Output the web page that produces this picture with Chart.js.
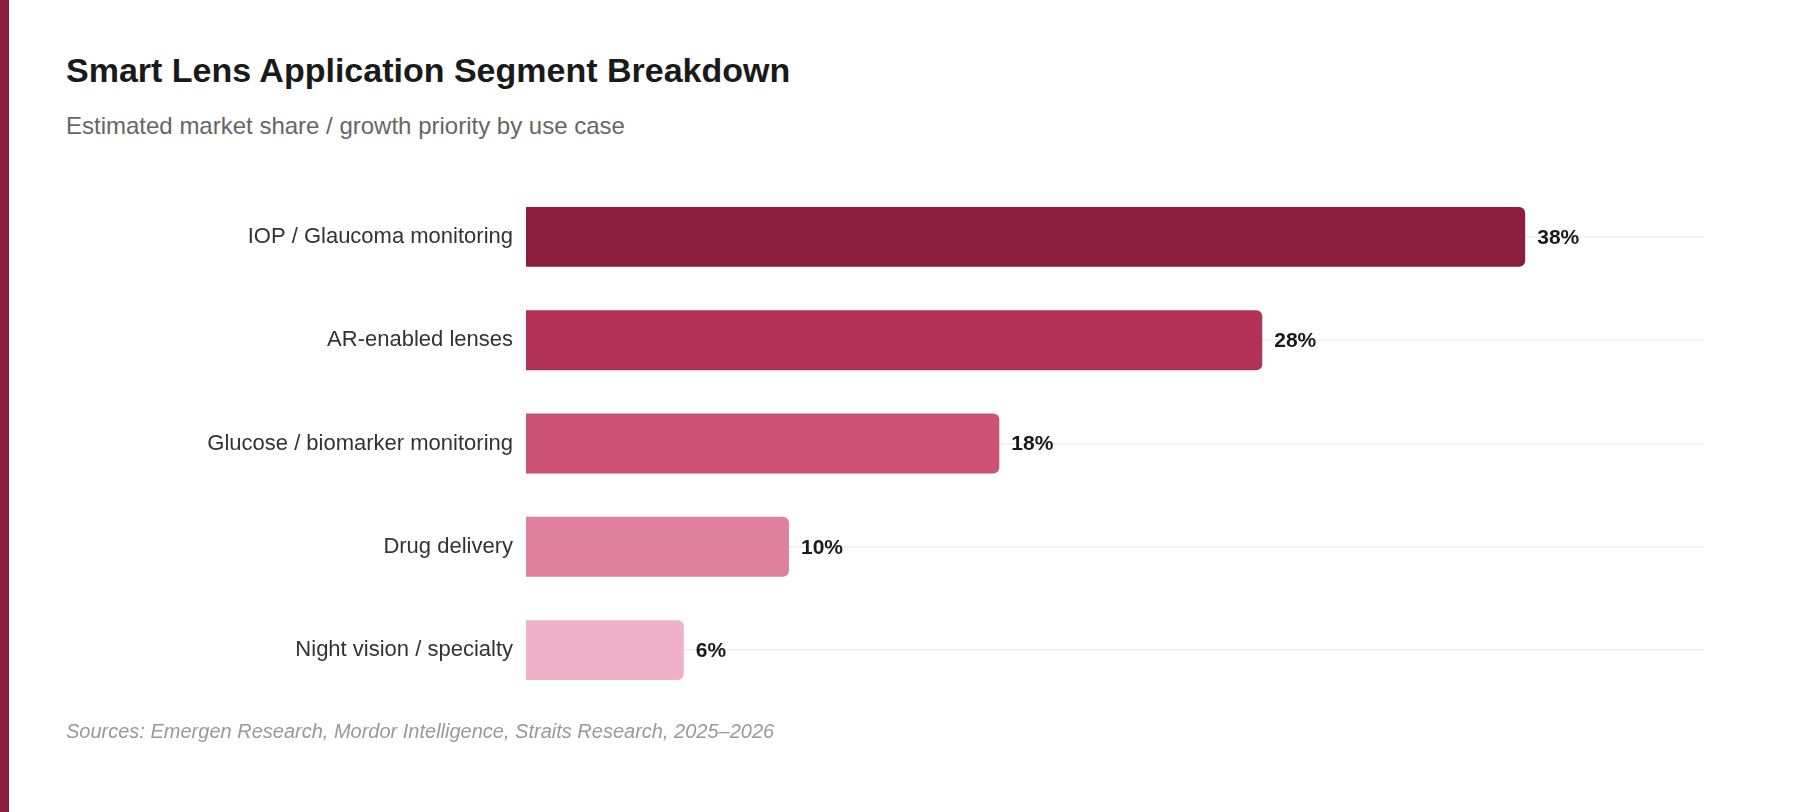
<!DOCTYPE html>
<html>
<head>
<meta charset="utf-8">
<script src="https://cdn.jsdelivr.net/npm/chart.js@4"></script>
<style>
  html, body { margin: 0; padding: 0; background: #fff; }
  body { width: 1800px; height: 812px; position: relative; overflow: hidden;
         font-family: "Liberation Sans", Arial, Helvetica, sans-serif; }
  .edge { position: absolute; left: 0; top: 0; width: 9px; height: 812px; background: #8b1e3f; }
  h1 { position: absolute; left: 66px; top: 50px; margin: 0; font-size: 34px; line-height: 40px;
       font-weight: bold; color: #1a1a1a; }
  .sub { position: absolute; left: 66px; top: 112px; margin: 0; font-size: 24px; line-height: 28px; color: #666; }
  .box { position: absolute; left: 66px; top: 159px; width: 1638px; height: 569px; }
  .src { position: absolute; left: 66px; top: 719px; margin: 0; font-size: 20px; line-height: 24px;
         font-style: italic; color: #999; }
</style>
</head>
<body>
<div class="edge"></div>
<h1>Smart Lens Application Segment Breakdown</h1>
<p class="sub">Estimated market share / growth priority by use case</p>
<div class="box"><canvas id="myChart"></canvas></div>
<p class="src">Sources: Emergen Research, Mordor Intelligence, Straits Research, 2025–2026</p>
<script>
  const labels = [
    'IOP / Glaucoma monitoring',
    'AR-enabled lenses',
    'Glucose / biomarker monitoring',
    'Drug delivery',
    'Night vision / specialty'
  ];
  const shares = [38, 28, 18, 10, 6];
  const colours = ['#8b1e3f', '#b23157', '#cc5276', '#e0809f', '#f0b0c7'];

  // writes the % value just right of each bar
  const valueLabels = {
    id: 'valueLabels',
    afterDatasetsDraw(chart) {
      const ctx = chart.ctx;
      const meta = chart.getDatasetMeta(0);
      ctx.save();
      ctx.font = 'bold 21px "Liberation Sans", Arial, sans-serif';
      ctx.fillStyle = '#1a1a1a';
      ctx.textAlign = 'left';
      ctx.textBaseline = 'middle';
      meta.data.forEach((bar, i) => {
        ctx.fillText(shares[i] + '%', bar.x + 12, bar.y + 1);
      });
      ctx.restore();
    }
  };

  const data = {
    labels: labels,
    datasets: [{
      data: shares,
      backgroundColor: colours,
      borderRadius: 6,
      borderSkipped: 'start',
      barPercentage: 0.58,
      categoryPercentage: 1
    }]
  };

  const config = {
    type: 'bar',
    data: data,
    plugins: [valueLabels],
    options: {
      indexAxis: 'y',
      responsive: true,
      maintainAspectRatio: false,
      animation: false,
      layout: { padding: 0 },
      plugins: { legend: { display: false }, tooltip: { enabled: false } },
      scales: {
        x: {
          display: false,
          min: 0,
          max: 44.8
        },
        y: {
          afterFit(scale) { scale.width = 460; },
          border: { display: false },
          grid: { offset: false, color: '#efefeb', lineWidth: 1.5, drawTicks: false },
          ticks: {
            padding: 13,
            color: '#333',
            font: { family: '"Liberation Sans", Arial, sans-serif', size: 22 }
          }
        }
      }
    }
  };

  const myChart = new Chart(document.getElementById('myChart'), config);
</script>
</body>
</html>
